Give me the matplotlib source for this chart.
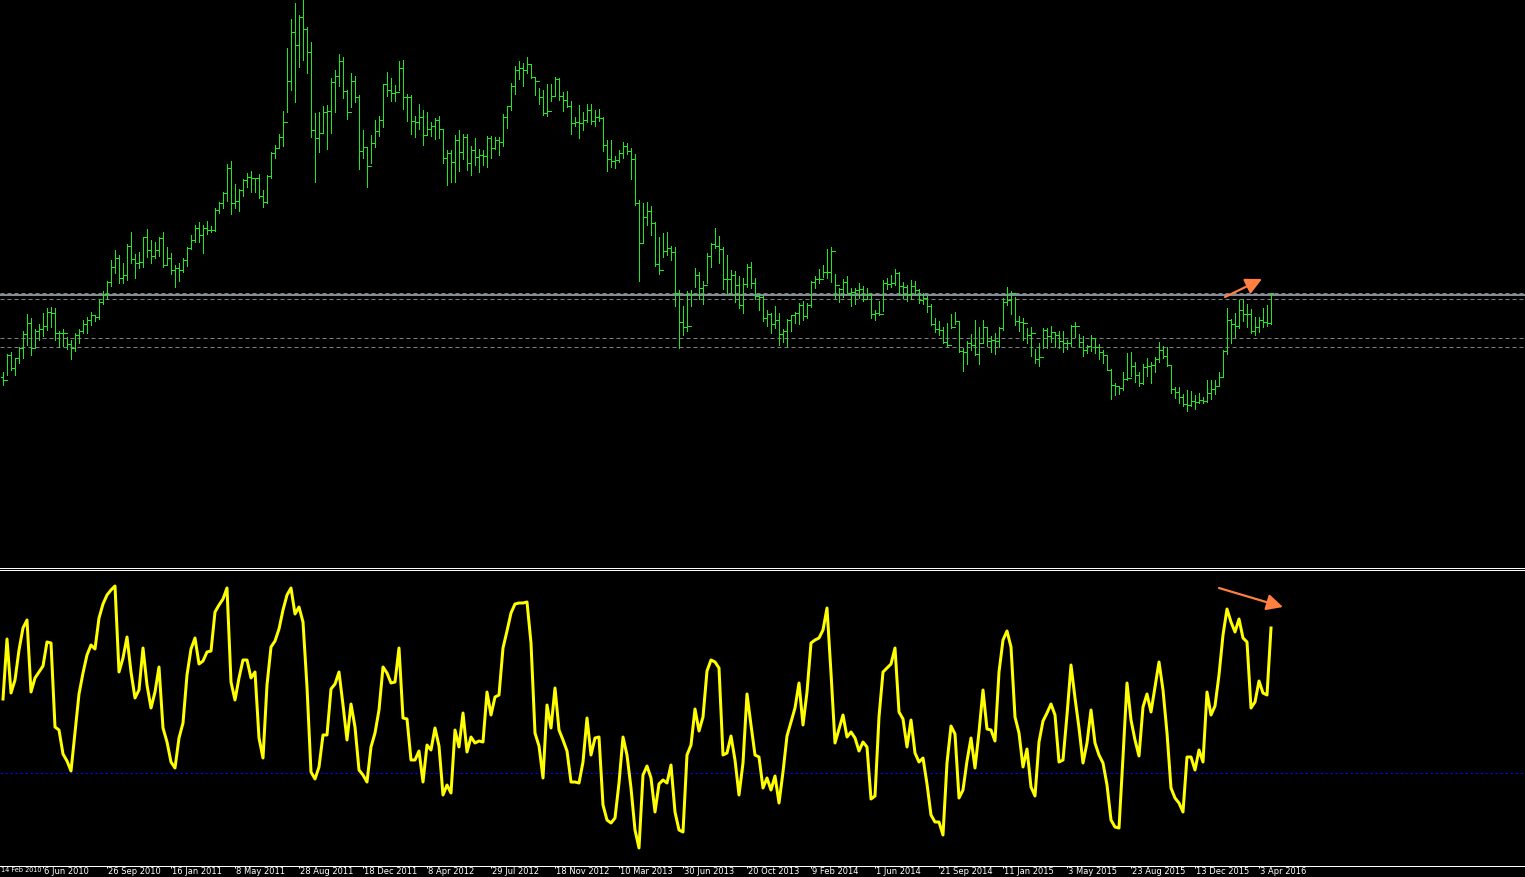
import matplotlib
matplotlib.use("Agg")
import matplotlib.pyplot as plt
from matplotlib.collections import LineCollection
from matplotlib.transforms import blended_transform_factory

# ---------------- data (weekly bars) ----------------
highs = [
    1156, 1192, 1196, 1184, 1206, 1238, 1272, 1264, 1242, 1252,
    1274, 1284, 1286, 1284, 1238, 1242, 1226, 1220, 1234, 1242,
    1260, 1266, 1276, 1270, 1302, 1318, 1338, 1380, 1400, 1390,
    1374, 1412, 1436, 1392, 1396, 1426, 1442, 1420, 1416, 1426,
    1436, 1406, 1394, 1370, 1374, 1384, 1406, 1430, 1450, 1456,
    1450, 1458, 1448, 1484, 1496, 1516, 1572, 1578, 1532, 1522,
    1542, 1554, 1558, 1544, 1552, 1520, 1550, 1596, 1610, 1632,
    1678, 1804, 1862, 1894, 1870, 1900, 1846, 1816, 1674, 1676,
    1688, 1690, 1744, 1760, 1792, 1786, 1720, 1754, 1748, 1710,
    1640, 1606, 1630, 1660, 1668, 1732, 1756, 1744, 1730, 1778,
    1780, 1712, 1710, 1668, 1692, 1680, 1676, 1656, 1664, 1668,
    1642, 1600, 1600, 1630, 1640, 1632, 1632, 1608, 1624, 1602,
    1600, 1628, 1628, 1626, 1626, 1672, 1688, 1734, 1768, 1778,
    1774, 1786, 1770, 1746, 1724, 1720, 1732, 1732, 1746, 1744,
    1716, 1718, 1698, 1666, 1690, 1676, 1692, 1692, 1680, 1682,
    1666, 1620, 1620, 1588, 1600, 1616, 1614, 1604, 1592, 1500,
    1494, 1496, 1488, 1456, 1426, 1434, 1436, 1408, 1406, 1320,
    1288, 1318, 1320, 1364, 1356, 1338, 1394, 1414, 1444, 1428,
    1406, 1390, 1360, 1358, 1348, 1344, 1372, 1376, 1344, 1312,
    1308, 1280, 1274, 1288, 1274, 1242, 1262, 1270, 1276, 1294,
    1298, 1294, 1338, 1348, 1362, 1370, 1402, 1406, 1352, 1324,
    1342, 1348, 1324, 1324, 1334, 1328, 1324, 1314, 1280, 1298,
    1340, 1344, 1350, 1362, 1356, 1336, 1330, 1340, 1338, 1322,
    1314, 1310, 1292, 1264, 1258, 1246, 1254, 1272, 1276, 1258,
    1204, 1218, 1232, 1260, 1246, 1260, 1246, 1228, 1234, 1246,
    1304, 1326, 1318, 1306, 1268, 1264, 1244, 1246, 1202, 1214,
    1244, 1244, 1248, 1234, 1238, 1238, 1220, 1250, 1256, 1232,
    1228, 1210, 1230, 1224, 1212, 1200, 1190, 1162, 1134, 1126,
    1156, 1194, 1196, 1176, 1156, 1172, 1184, 1176, 1186, 1216,
    1208, 1206, 1170, 1126, 1126, 1112, 1120, 1118, 1110, 1114,
    1106, 1140, 1140, 1140, 1156, 1200, 1284, 1262, 1274, 1300,
    1302, 1292, 1282, 1266, 1266, 1284, 1290, 1314,
]
lows = [
    1130, 1150, 1160, 1150, 1174, 1184, 1210, 1190, 1206, 1220,
    1228, 1240, 1246, 1220, 1206, 1208, 1202, 1182, 1198, 1214,
    1234, 1234, 1250, 1258, 1262, 1292, 1302, 1328, 1354, 1334,
    1334, 1340, 1374, 1344, 1364, 1366, 1386, 1374, 1384, 1388,
    1366, 1370, 1352, 1326, 1338, 1356, 1368, 1402, 1416, 1416,
    1394, 1432, 1436, 1438, 1474, 1484, 1498, 1472, 1484, 1478,
    1508, 1526, 1516, 1516, 1504, 1486, 1494, 1544, 1584, 1604,
    1608, 1676, 1720, 1696, 1766, 1780, 1754, 1626, 1536, 1596,
    1636, 1602, 1634, 1676, 1728, 1704, 1662, 1686, 1696, 1562,
    1584, 1526, 1574, 1606, 1628, 1646, 1708, 1698, 1698, 1720,
    1682, 1658, 1632, 1626, 1642, 1610, 1630, 1628, 1622, 1624,
    1574, 1530, 1536, 1536, 1558, 1582, 1560, 1550, 1570, 1556,
    1570, 1566, 1584, 1602, 1590, 1608, 1644, 1680, 1712, 1742,
    1728, 1754, 1744, 1710, 1692, 1670, 1668, 1698, 1708, 1700,
    1678, 1686, 1632, 1648, 1624, 1640, 1656, 1652, 1648, 1658,
    1598, 1558, 1566, 1564, 1576, 1584, 1592, 1542, 1490, 1338,
    1414, 1450, 1430, 1368, 1352, 1386, 1390, 1380, 1288, 1204,
    1230, 1238, 1288, 1326, 1302, 1292, 1334, 1366, 1404, 1374,
    1322, 1312, 1312, 1296, 1284, 1274, 1326, 1324, 1302, 1280,
    1258, 1248, 1234, 1244, 1210, 1216, 1208, 1238, 1254, 1252,
    1260, 1264, 1286, 1324, 1334, 1346, 1344, 1336, 1304, 1296,
    1306, 1314, 1288, 1292, 1304, 1298, 1302, 1264, 1260, 1270,
    1278, 1322, 1326, 1330, 1310, 1304, 1298, 1302, 1310, 1294,
    1292, 1276, 1250, 1236, 1230, 1214, 1208, 1244, 1252, 1196,
    1158, 1172, 1200, 1190, 1172, 1214, 1208, 1196, 1192, 1206,
    1240, 1290, 1272, 1250, 1238, 1220, 1214, 1188, 1174, 1168,
    1204, 1204, 1216, 1206, 1204, 1196, 1202, 1208, 1226, 1206,
    1188, 1194, 1198, 1194, 1182, 1174, 1160, 1102, 1110, 1112,
    1120, 1140, 1148, 1136, 1128, 1132, 1148, 1134, 1156, 1176,
    1184, 1168, 1114, 1104, 1094, 1088, 1078, 1088, 1082, 1094,
    1094, 1096, 1102, 1112, 1128, 1146, 1192, 1214, 1226, 1244,
    1258, 1246, 1234, 1230, 1236, 1246, 1248, 1252,
]
closes = [
    1140, 1190, 1164, 1184, 1204, 1232, 1254, 1204, 1238, 1242,
    1248, 1276, 1274, 1234, 1234, 1234, 1212, 1204, 1230, 1238,
    1252, 1260, 1270, 1266, 1296, 1312, 1336, 1366, 1384, 1344,
    1350, 1408, 1382, 1374, 1376, 1426, 1400, 1388, 1400, 1424,
    1370, 1384, 1360, 1364, 1360, 1380, 1404, 1420, 1444, 1430,
    1444, 1440, 1440, 1480, 1494, 1514, 1564, 1494, 1498, 1520,
    1540, 1546, 1544, 1544, 1508, 1496, 1548, 1594, 1604, 1626,
    1656, 1738, 1836, 1810, 1866, 1842, 1796, 1640, 1624, 1634,
    1676, 1678, 1736, 1748, 1778, 1718, 1676, 1738, 1706, 1598,
    1606, 1568, 1614, 1638, 1660, 1732, 1720, 1714, 1716, 1764,
    1706, 1706, 1658, 1656, 1666, 1630, 1642, 1648, 1660, 1642,
    1584, 1594, 1576, 1620, 1596, 1626, 1574, 1600, 1586, 1590,
    1588, 1624, 1604, 1620, 1616, 1666, 1688, 1728, 1760, 1764,
    1760, 1772, 1746, 1738, 1706, 1674, 1678, 1708, 1742, 1708,
    1700, 1688, 1654, 1656, 1654, 1660, 1680, 1658, 1666, 1664,
    1610, 1582, 1578, 1580, 1594, 1608, 1598, 1582, 1494, 1414,
    1466, 1478, 1454, 1372, 1360, 1398, 1404, 1396, 1314, 1256,
    1246, 1248, 1312, 1350, 1324, 1330, 1388, 1412, 1408, 1402,
    1342, 1342, 1350, 1330, 1290, 1332, 1366, 1334, 1308, 1306,
    1264, 1272, 1252, 1260, 1232, 1238, 1260, 1270, 1274, 1290,
    1268, 1290, 1336, 1342, 1342, 1356, 1356, 1398, 1330, 1322,
    1336, 1314, 1316, 1320, 1322, 1302, 1310, 1272, 1274, 1272,
    1334, 1332, 1334, 1354, 1328, 1326, 1312, 1328, 1320, 1300,
    1304, 1288, 1252, 1242, 1240, 1216, 1210, 1246, 1258, 1198,
    1196, 1214, 1210, 1192, 1214, 1246, 1218, 1220, 1218, 1244,
    1296, 1300, 1314, 1258, 1256, 1254, 1230, 1234, 1182, 1186,
    1240, 1228, 1236, 1230, 1218, 1214, 1214, 1248, 1248, 1216,
    1200, 1208, 1224, 1206, 1196, 1190, 1160, 1130, 1128, 1124,
    1142, 1144, 1168, 1150, 1134, 1166, 1168, 1170, 1182, 1200,
    1188, 1170, 1122, 1116, 1106, 1092, 1090, 1098, 1096, 1100,
    1098, 1114, 1122, 1128, 1146, 1198, 1260, 1252, 1248, 1280,
    1272, 1272, 1238, 1246, 1260, 1256, 1254, 1314,
]
first_open = 1146

oscillator = [
    74, 134, 80, 93, 123, 145, 153, 81, 95, 101,
    107, 131, 130, 46, 43, 19, 12, 2, 41, 79,
    100, 118, 128, 124, 155, 169, 178, 183, 187, 101,
    115, 136, 101, 75, 83, 125, 88, 65, 81, 106,
    45, 31, 11, 5, 35, 50, 98, 124, 135, 109,
    112, 121, 122, 161, 168, 174, 185, 91, 73, 95,
    113, 113, 95, 101, 35, 15, 88, 126, 132, 144,
    163, 178, 185, 159, 166, 151, 86, 1, -6, 6,
    38, 38, 84, 89, 101, 68, 33, 69, 46, 3,
    -2, -9, 26, 40, 63, 106, 100, 90, 91, 125,
    55, 54, 13, 13, 22, -9, 28, 23, 45, 27,
    -22, -12, -20, 43, 26, 60, 21, 36, 30, 32,
    31, 81, 58, 76, 78, 125, 142, 160, 169, 170,
    170, 171, 130, 40, 27, -5, 68, 45, 85, 43,
    33, 22, -9, -9, -10, 11, 55, 18, 35, 36,
    -32, -47, -50, -45, -10, 36, 18, -15, -57, -75,
    -2, 7, -5, -39, -11, -7, -10, 8, -39, -57,
    -59, 18, 28, 64, 42, 56, 102, 113, 111, 105,
    18, 20, 37, 13, -22, 10, 79, 48, 18, 16,
    -15, -5, -17, -3, -30, 1, 37, 51, 65, 90,
    48, 81, 130, 133, 135, 143, 165, 100, 30, 44,
    58, 36, 41, 35, 22, 31, 26, -26, -23, 56,
    101, 105, 109, 125, 61, 54, 26, 53, 20, 11,
    15, -11, -42, -49, -49, -62, 10, 47, 39, -25,
    -17, 12, 35, 5, 41, 83, 44, 43, 32, 101,
    133, 142, 126, 56, 40, 6, 24, -14, -23, 31,
    52, 60, 69, 58, 11, 13, 58, 108, 75, 45,
    10, 30, 63, 30, 18, 10, -12, -47, -54, -55,
    16, 90, 53, 33, 17, 66, 79, 61, 86, 111,
    83, 40, -15, -25, -30, -39, 16, 16, 3, 23,
    11, 81, 58, 67, 98, 138, 164, 151, 141, 154,
    135, 131, 65, 71, 92, 80, 78, 145,
]
osc_level = 0

tick_bars = [10, 26, 42, 58, 74, 90, 106, 122, 138, 154, 170, 186,
             202, 218, 234, 250, 266, 282, 298, 314]
tick_labels = ["6 Jun 2010", "26 Sep 2010", "16 Jan 2011",
               "8 May 2011", "28 Aug 2011", "18 Dec 2011", "8 Apr 2012",
               "29 Jul 2012", "18 Nov 2012", "10 Mar 2013", "30 Jun 2013",
               "20 Oct 2013", "9 Feb 2014", "1 Jun 2014", "21 Sep 2014",
               "11 Jan 2015", "3 May 2015", "23 Aug 2015", "13 Dec 2015",
               "3 Apr 2016"]
first_label = "14 Feb 2010"

resistance = 1311
dashed_levels = [1315, 1303, 1225, 1207]
price_arrow = [(305.5, 1306), (314.75, 1342)]
osc_arrow = [(304, 185), (320, 166)]

# ---------------- figure ----------------
W, H = 1525, 877
fig = plt.figure(figsize=(W / 100, H / 100), dpi=100, facecolor="black")
ax = fig.add_axes([0, 309 / H, 1, 568 / H], facecolor="black")
osc_top, osc_bot = 570, 866
ax2 = fig.add_axes([0, (H - osc_bot) / H, 1, (osc_bot - osc_top) / H],
                   facecolor="black")

px = 72 / 100  # one pixel in points
green = "#22e622"

n = len(closes)
opens = [first_open] + closes[:-1]
segs = []
for i in range(n):
    segs.append([(i, lows[i]), (i, highs[i])])
    segs.append([(i - 0.45, opens[i]), (i, opens[i])])
    segs.append([(i, closes[i]), (i + 0.45, closes[i])])
lc = LineCollection(segs, colors=green, linewidths=1.0 * px,
                    antialiased=False, zorder=3)
ax.add_collection(lc)

for lv in dashed_levels:
    ax.axhline(lv, color="#808080", lw=1.0 * px, ls=(0, (4, 3)), zorder=2)
ax.axhline(resistance, color="#a4b0c0", lw=1.6 * px, zorder=2)

ax.annotate("", xy=price_arrow[1], xytext=price_arrow[0],
            arrowprops=dict(arrowstyle="-|>,head_length=0.7,head_width=0.35",
                            color="#ff8040", lw=2.2 * px, shrinkA=0, shrinkB=0,
                            mutation_scale=14), zorder=5)

ax.set_xlim(-0.75, 380.5)
ax.set_ylim(764, 1900)
ax.set_xticks([])
ax.set_yticks([])
for s in ["top", "left", "right"]:
    ax.spines[s].set_visible(False)
ax.spines["bottom"].set_color("white")
ax.spines["bottom"].set_linewidth(1.0 * px)

# ---------------- oscillator ----------------
ax2.plot(range(n), oscillator, color="#ffff00", lw=3.0 * px,
         solid_joinstyle="round", zorder=3)
ax2.axhline(osc_level, color="#0000ff", lw=1.0 * px, ls=(0, (2.5, 2.5)), zorder=2)
ax2.annotate("", xy=osc_arrow[1], xytext=osc_arrow[0],
             arrowprops=dict(arrowstyle="-|>,head_length=0.7,head_width=0.35",
                             color="#ff8040", lw=2.2 * px, shrinkA=0, shrinkB=0,
                             mutation_scale=14), zorder=5)
ax2.set_xlim(-0.75, 380.5)
ax2.set_ylim(773 - osc_bot, 773 - osc_top)
ax2.set_yticks([])
for s in ["left", "right"]:
    ax2.spines[s].set_visible(False)
for s in ["top", "bottom"]:
    ax2.spines[s].set_color("white")
    ax2.spines[s].set_linewidth(1.0 * px)

ax2.set_xticks(tick_bars)
ax2.set_xticklabels([])
ax2.tick_params(axis="x", direction="out", length=2 * px, width=1.0 * px,
                color="white")
trans = blended_transform_factory(ax2.transData, ax2.transAxes)
h2 = osc_bot - osc_top
for b, lab in zip(tick_bars, tick_labels):
    ax2.text(b + 0.3, -1.5 / h2, lab, transform=trans, ha="left", va="top",
             color="white", fontsize=6, family="DejaVu Sans", clip_on=False)
# first (partly off-screen in the terminal) date label, kept inside the figure
ax2.text(0.0008, -1.5 / h2, first_label, transform=ax2.transAxes,
         ha="left", va="top", color="white", fontsize=4.7,
         family="DejaVu Sans", clip_on=False)

fig.savefig("out.png", dpi=100, facecolor="black")
